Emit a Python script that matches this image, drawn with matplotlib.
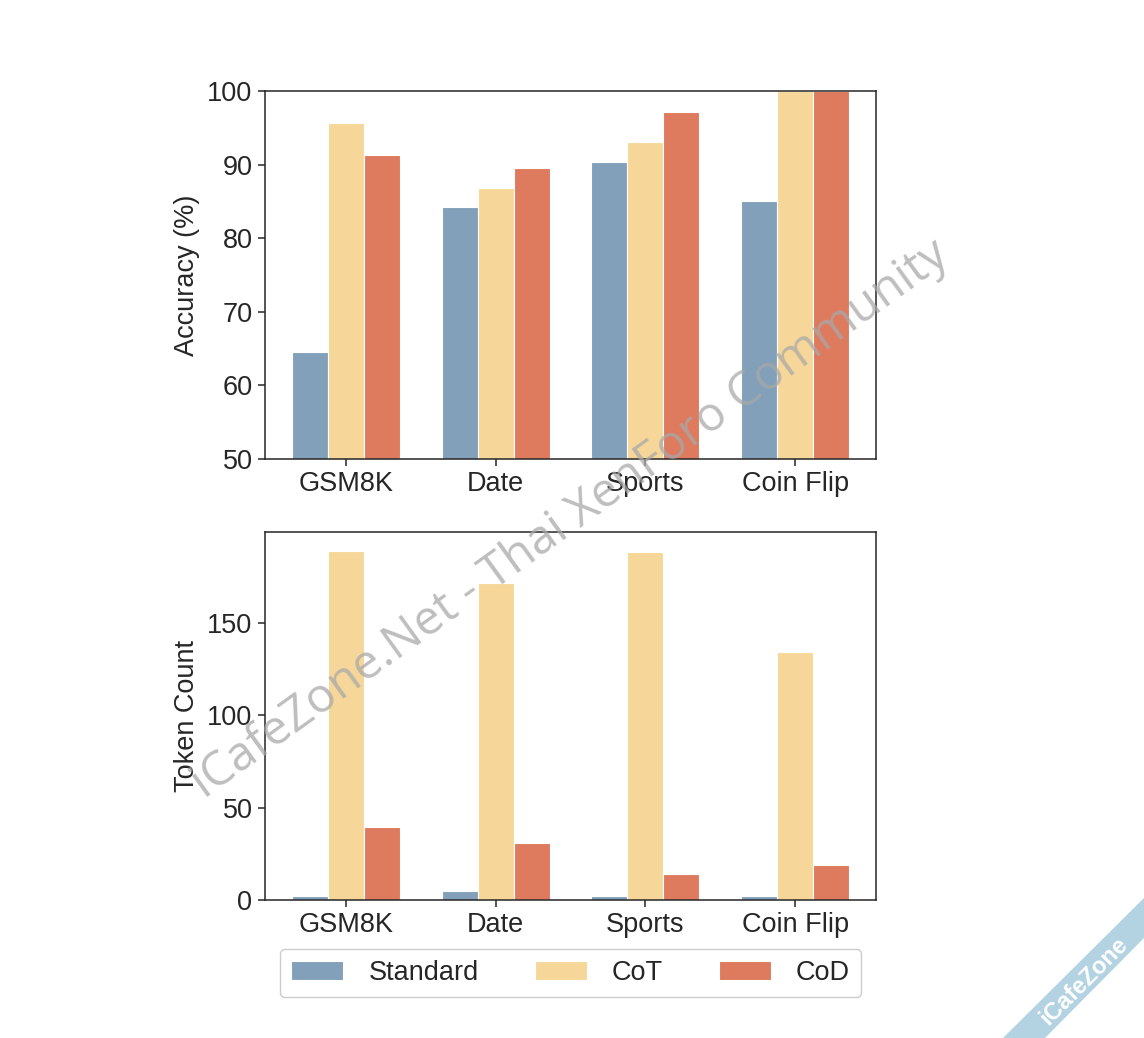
import numpy as np
import matplotlib
matplotlib.use("Agg")
import matplotlib.pyplot as plt
from matplotlib.patches import Polygon

categories = ["GSM8K", "Date", "Sports", "Coin Flip"]
methods = ["Standard", "CoT", "CoD"]
colors = ["#82A0B9", "#F6D799", "#DE7A5E"]
accuracy_standard = [64.5, 84.2, 90.4, 85.0]
accuracy_cot = [95.6, 86.8, 93.1, 100.0]
accuracy_cod = [91.3, 89.5, 97.2, 100.0]
tokens_standard = [2.0, 5.0, 2.0, 2.0]
tokens_cot = [189.0, 171.6, 188.5, 134.5]
tokens_cod = [39.5, 31.0, 14.0, 19.0]

W, H = 1144, 1038
FS = 19.5
plt.rcParams['font.family'] = ['Liberation Sans', 'DejaVu Sans']
plt.rcParams['text.color'] = '#262626'
plt.rcParams['axes.labelcolor'] = '#262626'
plt.rcParams['xtick.labelcolor'] = '#262626'
plt.rcParams['ytick.labelcolor'] = '#262626'
fig = plt.figure(figsize=(W/100, H/100), dpi=100, facecolor='white')

def make_axes(top, bottom, left=265, right=876):
    return fig.add_axes([left/W, 1-bottom/H, (right-left)/W, (bottom-top)/H])

ax1 = make_axes(91, 459)
ax2 = make_axes(532, 900)
x = np.arange(len(categories))
bw = 0.24

def bars(ax, series):
    handles = []
    for i, vals in enumerate(series):
        handles.append(ax.bar(x + (i-1)*bw, vals, bw, color=colors[i], edgecolor='white',
                              linewidth=0.8, label=methods[i], zorder=2))
    ax.set_xlim(-0.54, 3.54)
    ax.set_xticks(x)
    ax.set_xticklabels(categories)
    ax.tick_params(axis='both', labelsize=FS, length=5, width=1.1, color='#262626', pad=4)
    for s in ax.spines.values():
        s.set_color('#262626')
        s.set_linewidth(1.1)
    return handles

bars(ax1, [accuracy_standard, accuracy_cot, accuracy_cod])
ax1.set_ylim(50, 100)
ax1.set_yticks([50, 60, 70, 80, 90, 100])
ax1.set_ylabel("Accuracy (%)", fontsize=FS, labelpad=5)

h = bars(ax2, [tokens_standard, tokens_cot, tokens_cod])
ax2.set_ylim(0, 199.3)
ax2.set_yticks([0, 50, 100, 150])
ax2.set_ylabel("Token Count", fontsize=FS, labelpad=5)

fig.legend(handles=h, labels=methods, ncol=3, fontsize=FS, loc='center',
           bbox_to_anchor=(570.5/W, 1-973/H), frameon=True, fancybox=True,
           edgecolor='#cccccc', framealpha=1, columnspacing=2.07, handlelength=1.92,
           handletextpad=0.92, borderpad=0.42)

# watermark and corner ribbon
fig.text(570/W, 1-519/H, "iCafeZone.Net - Thai XenForo Community", fontsize=34.5,
         family=['Open Sans', 'DejaVu Sans'], color='#a8a8a8', alpha=0.75, rotation=35.8,
         rotation_mode='anchor', ha='center', va='center', zorder=10)
fig.add_artist(Polygon([[1003/W, 0], [1144/W, 1-898/H], [1144/W, 1-938/H], [1045/W, 0]],
                       closed=True, transform=fig.transFigure, facecolor='#B3D3E3', edgecolor='none'))
fig.text(1084/W, 1-981/H, "iCafeZone", fontsize=17, fontweight='bold', color='white', rotation=45,
         rotation_mode='anchor', ha='center', va='center')

fig.savefig("out.png", dpi=100)
